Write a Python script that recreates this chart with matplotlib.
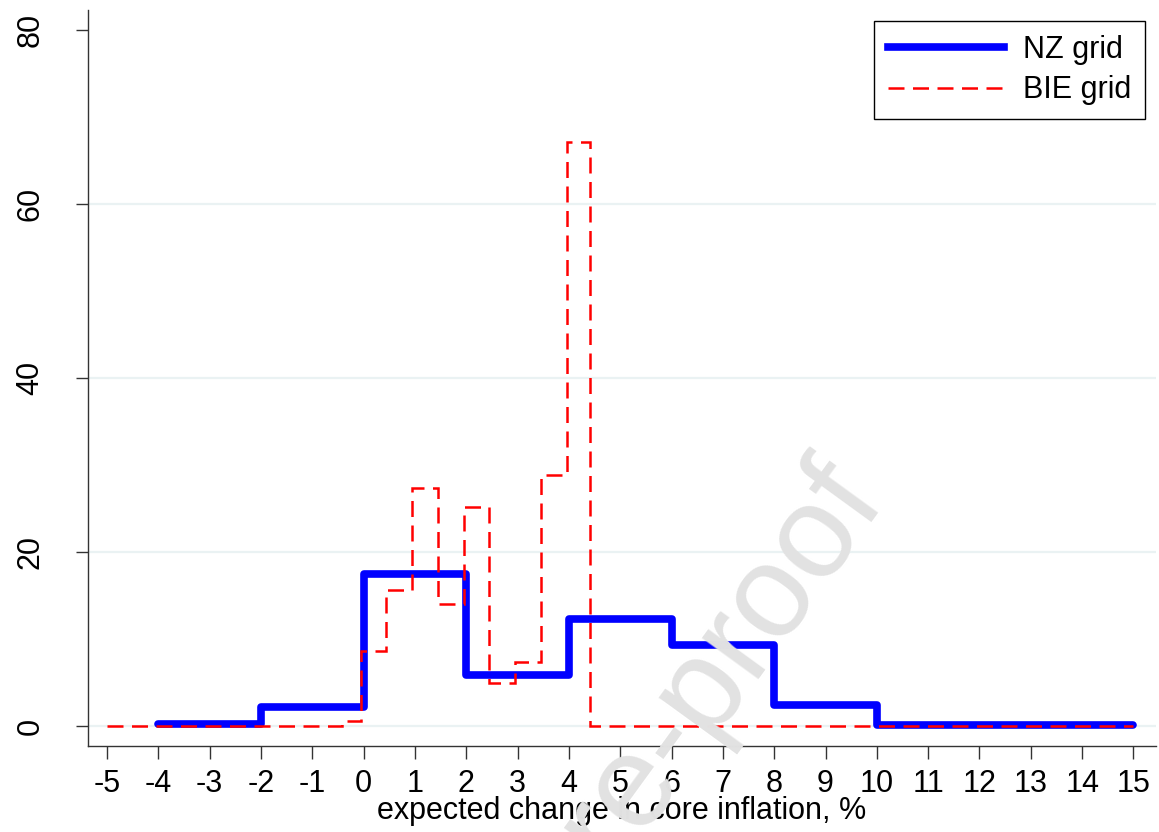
import matplotlib
matplotlib.use('Agg')
import matplotlib.pyplot as plt

plt.rcParams['font.family'] = ['Liberation Sans', 'DejaVu Sans']

# Survey density of expected change in core inflation, % of respondents
nz_edges = [-4, -2, 0, 2, 4, 6, 8, 10, 15]
nz_values = [0.3, 2.2, 17.5, 5.9, 12.3, 9.3, 2.4, 0.1]

bie_edges = [-5, -0.42, -0.06, 0.44, 0.95, 1.45, 1.95, 2.44, 2.95, 3.45, 3.97, 4.42, 15]
bie_values = [0.0, 0.6, 8.7, 15.7, 27.4, 14.1, 25.2, 5.0, 7.4, 28.9, 67.1, 0.0]

x_ticks = list(range(-5, 16))
y_ticks = [0, 20, 40, 60, 80]
grid_levels = [0, 20, 40, 60]

fig = plt.figure(figsize=(11.59, 8.32), dpi=100)
ax = fig.add_axes([0.076, 0.103, 0.921, 0.885])

for g in grid_levels:
    ax.axhline(g, color='#eaf2f3', linewidth=1.6, zorder=0)

ax.stairs(nz_values, nz_edges, baseline=None, color='#0000ff', linewidth=5.5,
          joinstyle='round', capstyle='round', label='NZ grid', zorder=2)
ax.stairs(bie_values, bie_edges, baseline=None, color='#ff0000', linewidth=1.8,
          linestyle=(0, (6.4, 3.4)), label='BIE grid', zorder=3)

ax.set_xlim(-5.37, 15.43)
ax.set_ylim(-2.3, 82.3)
ax.set_xticks(x_ticks)
ax.set_xticklabels([str(t) for t in x_ticks])
ax.set_yticks(y_ticks)
ax.set_yticklabels([str(t) for t in y_ticks], rotation=90, va='center')

for side in ['top', 'right']:
    ax.spines[side].set_visible(False)
for side in ['left', 'bottom']:
    ax.spines[side].set_color('#333333')
    ax.spines[side].set_linewidth(1.0)

ax.tick_params(axis='x', length=9.5, width=1.0, color='#333333', labelsize=22, pad=7)
ax.tick_params(axis='y', length=8.5, width=1.0, color='#333333', labelsize=22, pad=22)
ax.set_xlabel('expected change in core inflation, %', fontsize=22, labelpad=-2)

leg = ax.legend(loc='upper right', fontsize=22, handlelength=3.8, handletextpad=0.6,
                labelspacing=0.35, borderpad=0.45, borderaxespad=0.36,
                fancybox=False, framealpha=1, edgecolor='black')
leg.get_frame().set_linewidth(1.0)

# faint diagonal watermark over the whole figure
fig.text(0.766, 0.397, 'Journal Pre-proof', fontsize=95, color='#e2e2e2',
         rotation=54, rotation_mode='anchor', ha='right', va='baseline', zorder=10)

fig.savefig('out.png', dpi=100)
